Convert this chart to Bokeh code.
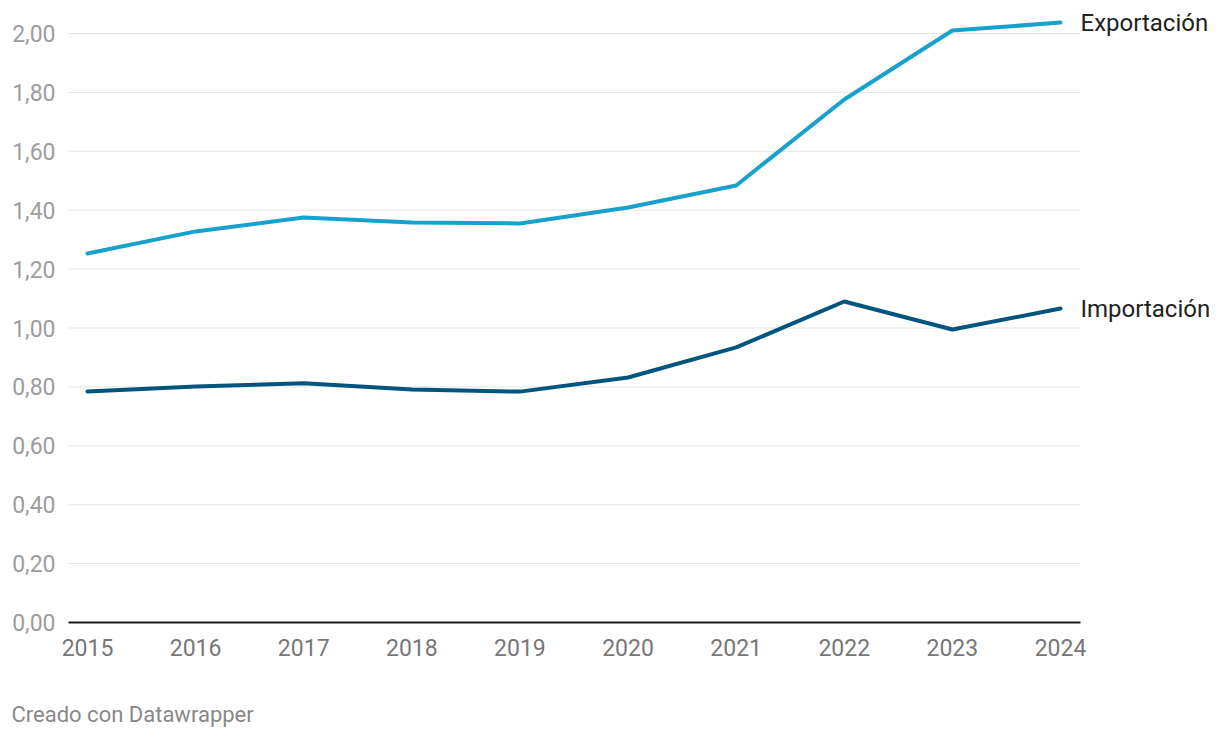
from bokeh.plotting import figure
from bokeh.models import Range1d, FixedTicker, CustomJSTickFormatter
from bokeh.core.properties import value
from bokeh.embed import file_html
from bokeh.resources import INLINE

years = [2015, 2016, 2017, 2018, 2019, 2020, 2021, 2022, 2023, 2024]
exportacion = [1.253, 1.328, 1.375, 1.358, 1.355, 1.409, 1.484, 1.776, 2.010, 2.037]
importacion = [0.784, 0.801, 0.812, 0.791, 0.784, 0.832, 0.934, 1.090, 0.995, 1.066]
y_ticks = [0.0, 0.2, 0.4, 0.6, 0.8, 1.0, 1.2, 1.4, 1.6, 1.8, 2.0]
series_names = ["Exportación", "Importación"]
footer = "Creado con Datawrapper"

FONT = "Roboto"
C_EXP = "#18a1cd"
C_IMP = "#00557f"

W, H = 1220, 738
PX_X = 108.11          # px per year
PX_Y = 294.5           # px per unit
X_START = 2015 - 87 / PX_X
X_END = 2015 + (W - 87) / PX_X
Y_START = -(H - 622) / PX_Y
Y_END = 2.0 + 33 / PX_Y
AXIS_X = 2015 - 19 / PX_X      # where the value axis / gridlines start
GRID_END = 2024 + 20 / PX_X    # where gridlines stop
FOOT_X = X_START + 11 / PX_X
FOOT_Y = Y_START + 24 / PX_Y

p = figure(width=W, height=H, output_backend="svg", toolbar_location=None,
           x_range=Range1d(X_START, X_END), y_range=Range1d(Y_START, Y_END),
           min_border=0)
p.outline_line_color = None
p.background_fill_color = "white"
p.border_fill_color = "white"

p.xgrid.grid_line_color = None
p.ygrid.grid_line_color = None

p.yaxis.ticker = FixedTicker(ticks=y_ticks)
p.yaxis.formatter = CustomJSTickFormatter(code="return tick.toFixed(2).replace('.', ',');")
p.xaxis.ticker = FixedTicker(ticks=years)
p.xaxis.formatter = CustomJSTickFormatter(code="return tick.toFixed(0);")
p.xaxis.fixed_location = 0
p.yaxis.fixed_location = AXIS_X

for ax in (p.xaxis[0], p.yaxis[0]):
    ax.axis_line_color = None
    ax.major_tick_line_color = None
    ax.minor_tick_line_color = None
    ax.major_tick_out = 0
    ax.major_tick_in = 0
    ax.major_label_text_font = FONT
    ax.major_label_text_font_size = "23px"
p.yaxis.major_label_text_color = "#9d9d9d"
p.yaxis.major_label_standoff = 13
p.xaxis.major_label_text_color = "#777777"
p.xaxis.major_label_standoff = 16

# horizontal gridlines
grid_y = y_ticks[1:]
p.segment(x0=[AXIS_X] * len(grid_y), y0=grid_y, x1=[GRID_END] * len(grid_y), y1=grid_y,
          line_color="#e5e5e5", line_width=1)
# baseline
p.segment(x0=[AXIS_X], y0=[y_ticks[0]], x1=[GRID_END], y1=[y_ticks[0]],
          line_color="#1a1a1a", line_width=2)

p.line(years, exportacion, line_color=C_EXP, line_width=4, line_cap="round", line_join="round")
p.line(years, importacion, line_color=C_IMP, line_width=4, line_cap="round", line_join="round")

p.text(x=[years[-1]] * 2, y=[exportacion[-1], importacion[-1]], text=series_names,
       x_offset=20, y_offset=0, text_font=value(FONT), text_font_size=value("24px"),
       text_color="#222222", text_baseline="middle", text_align="left")

p.text(x=[FOOT_X], y=[FOOT_Y], text=[footer], text_font=value(FONT),
       text_font_size=value("22px"), text_color="#888888",
       text_baseline="middle", text_align="left")

open("out.html", "w").write(file_html(p, INLINE))
